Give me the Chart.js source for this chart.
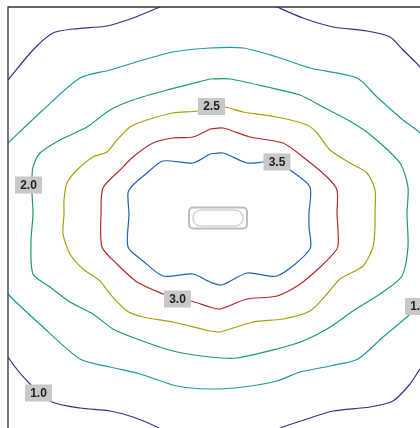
<!DOCTYPE html>
<html>
<head>
<meta charset="utf-8">
<script src="https://cdn.jsdelivr.net/npm/chart.js@4"></script>
<style>
  html, body { margin: 0; padding: 0; background: #fff; overflow: hidden; }
  #wrap { width: 420px; height: 428px; position: relative; }
</style>
</head>
<body>
<div id="wrap"><canvas id="c"></canvas></div>
<script>
// Contour levels and their polylines (data units)
const levels = ["1.0", "1.5", "2.0", "2.5", "3.0", "3.5"];
const levelColors = ["#3a2e8c", "#1c9a9c", "#1aa05a", "#a8a010", "#b82828", "#1a64b8"];

const contour10 = [[0,34.8],[2.5,37.8],[4.5,39.5],[6.5,39.9],[9.9,40.2],[12.5,41],[15.2,42.1],[18.2,43.3],[24.2,43.3],[26.9,42.1],[29.5,41],[32.5,40.1],[35.9,39.7],[38.2,39.1],[39.5,37.8],[41.2,36.1],[42.7,33.8],[43.2,21.4],[42.7,7.8],[41.2,5.9],[40.2,4.4],[38.5,2.7],[36.2,2.1],[32.5,1.7],[29.9,0.9],[27.5,0.1],[24.2,-1.2],[17.2,-1.2],[14.9,0.1],[12.5,1.1],[10.2,1.7],[7.2,2],[4.4,2.6],[2.2,4.4],[0,7.1],[-1.3,9.8],[-1.3,32.8],[0,34.8]];
const contour15 = [[0,28.5],[3.5,31.8],[7.2,35],[10.2,35.8],[13.5,36.8],[16.5,37.6],[20.2,38],[23.5,38],[26.9,37.1],[30.2,36],[34.9,35],[36.9,33.1],[39.5,30.8],[41.2,29.5],[43.2,26.8],[43.7,21.4],[43.2,14.3],[41.2,12.5],[40,11.2],[37.5,9.1],[35,6.9],[32.2,6.2],[29.2,5.6],[26.9,4.7],[23.5,4.1],[20.2,3.9],[16.9,4.2],[13.2,5.4],[10.2,6.1],[7.2,6.9],[3.5,10.1],[0,13.4],[-1.6,15.8],[-1.6,25.8],[0,28.5]];
const contour20 = [[20.2,34.9],[22.2,34.9],[25.9,34.1],[29.2,33.3],[31.5,32.1],[34.5,30.5],[36.5,29.1],[39.2,26.5],[40,24.1],[39.9,21.4],[40,18.1],[39.4,15.2],[37.5,13.6],[34.5,11.7],[31.9,9.9],[29.5,8.7],[26.9,7.9],[22.9,7],[20.2,7.1],[16.5,7.7],[12.9,8.9],[10.5,9.9],[8.5,11.4],[6.2,12.6],[4.2,14.1],[2.5,15.4],[2.3,18.7],[2.5,21.4],[2.4,23.5],[2.4,25.1],[2.5,26.1],[3.2,27.5],[5.2,28.8],[7.9,30.1],[10.2,31.8],[12.5,32.8],[15.9,33.8],[20.2,34.9]];
const contour25 = [[20.3,32.1],[21.7,32.1],[23.5,31.6],[26.9,31.1],[29.9,30.3],[30.9,29.5],[32.2,27.8],[34.2,26.5],[35.9,25.5],[36.7,23.8],[36.7,21.4],[36.7,20.1],[36.5,18.1],[35.5,16.2],[33.2,14.9],[31.9,13.4],[30.2,11.7],[27.5,10.9],[24.5,10.6],[21.2,9.6],[20.2,9.7],[16.5,10.6],[13.5,11.1],[11.9,11.7],[10.2,13.4],[9.2,14.7],[7.5,15.9],[6.2,17.4],[5.5,19.4],[5.6,21.4],[5.6,22.8],[5.9,24.5],[6.9,25.8],[8.5,27.1],[9.9,27.6],[10.9,28.8],[12.2,30.1],[13.9,30.8],[16.5,31.5],[19,31.7],[20.3,32.1]];
const contour30 = [[20.2,29.9],[21.5,30],[24.2,29.1],[27.5,28.5],[29.5,27.1],[31.9,25.1],[32.9,23.8],[32.9,21.4],[33,19.7],[32.9,17.9],[29.5,14.6],[26.9,13.2],[23.9,12.9],[21.2,11.9],[20.2,12.1],[18.3,12.7],[16.9,12.9],[15.5,13.4],[12.9,14.6],[10.9,16.4],[9.4,18.1],[9.3,21.4],[9.5,24],[11.2,25.8],[12.5,27.1],[14.5,28.5],[16.5,29],[18.5,29.1],[20.2,29.9]];
const contour35 = [[20.2,27.4],[21.5,27.5],[23.9,26.5],[25.5,26.6],[26.9,26.6],[28.2,25.8],[30.2,24.1],[30.1,21.5],[30.1,20.1],[30.2,17.9],[26.9,15.2],[23.9,15.5],[21.4,14.3],[20.2,14.6],[18.5,15.4],[15.5,15.2],[13.5,16.7],[12,18.1],[12.1,21.4],[12,23.5],[12.5,24.3],[13.9,25.5],[15.5,26.7],[18.5,26.5],[20.2,27.4]];

// Inline label anchor positions (data units), one per level
const labelPos = [[3.05,3.5],[41.05,12.15],[2.05,24.3],[20.35,32.15],[16.95,12.9],[26.9,26.6]];
// Centre marker position
const centerPos = [21, 21];

const contours = [contour10, contour15, contour20, contour25, contour30, contour35];

const datasets = contours.map((pts, i) => ({
  label: levels[i],
  data: pts.map(p => ({x: p[0], y: p[1]})),
  showLine: true,
  borderColor: levelColors[i],
  borderWidth: 1.2,
  pointRadius: 0,
  tension: 0.25,
  fill: false
}));

function roundRect(ctx, x, y, w, h, r) {
  ctx.beginPath();
  ctx.moveTo(x + r, y);
  ctx.lineTo(x + w - r, y);
  ctx.arcTo(x + w, y, x + w, y + r, r);
  ctx.lineTo(x + w, y + h - r);
  ctx.arcTo(x + w, y + h, x + w - r, y + h, r);
  ctx.lineTo(x + r, y + h);
  ctx.arcTo(x, y + h, x, y + h - r, r);
  ctx.lineTo(x, y + r);
  ctx.arcTo(x, y, x + r, y, r);
  ctx.closePath();
}

const overlay = {
  id: 'overlay',
  afterDatasetsDraw(chart) {
    const ctx = chart.ctx;
    const xs = chart.scales.x, ys = chart.scales.y;
    const a = chart.chartArea;
    ctx.save();
    // spines (left, top)
    ctx.strokeStyle = '#333';
    ctx.lineWidth = 1.3;
    ctx.beginPath();
    ctx.moveTo(a.left, a.bottom + 2);
    ctx.lineTo(a.left, a.top);
    ctx.lineTo(a.right + 2, a.top);
    ctx.stroke();
    // centre marker
    const cx = xs.getPixelForValue(centerPos[0]);
    const cy = ys.getPixelForValue(centerPos[1]);
    ctx.strokeStyle = '#bdbdbd';
    ctx.lineWidth = 2;
    roundRect(ctx, cx - 29, cy - 10.5, 58, 21, 4);
    ctx.stroke();
    ctx.strokeStyle = '#d2d2d2';
    ctx.lineWidth = 1.5;
    roundRect(ctx, cx - 25, cy - 8, 50, 16, 8);
    ctx.stroke();
    // contour labels
    ctx.font = 'bold 12px "Liberation Sans", Arial, sans-serif';
    ctx.textAlign = 'center';
    ctx.textBaseline = 'middle';
    labelPos.forEach((p, i) => {
      const px = xs.getPixelForValue(p[0]);
      const py = ys.getPixelForValue(p[1]);
      ctx.fillStyle = '#c8c8c8';
      ctx.fillRect(px - 13.5, py - 8.5, 27, 17);
      ctx.fillStyle = '#222';
      ctx.fillText(levels[i], px, py + 0.5);
    });
    ctx.restore();
  }
};

new Chart(document.getElementById('c'), {
  type: 'scatter',
  data: { datasets },
  options: {
    responsive: true,
    maintainAspectRatio: false,
    animation: false,
    layout: { padding: { left: 8, top: 7, right: 0, bottom: 0 } },
    plugins: { legend: { display: false }, tooltip: { enabled: false } },
    scales: {
      x: { type: 'linear', min: 0, max: 41.2, display: false },
      y: { type: 'linear', min: 0, max: 42.1, display: false }
    }
  },
  plugins: [overlay]
});
</script>
</body>
</html>
